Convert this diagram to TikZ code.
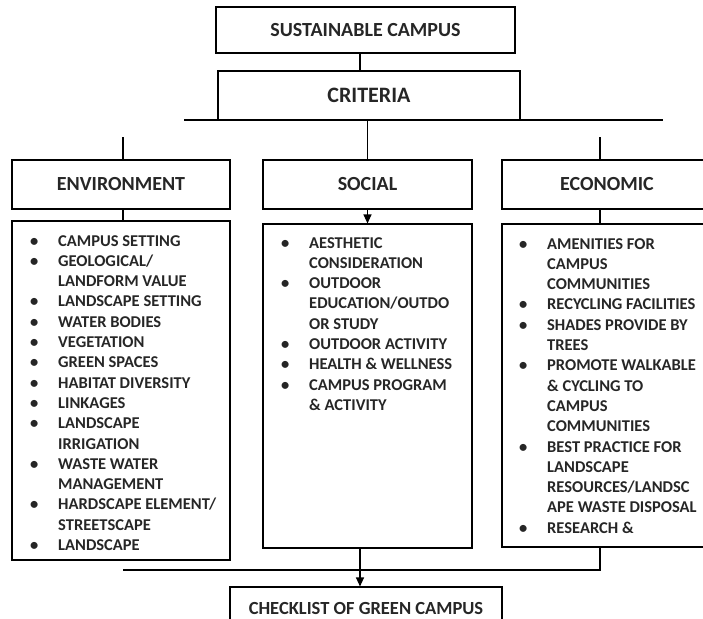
\documentclass[tikz,border=0pt]{standalone}
\usepackage{fontspec}
\setmainfont{Carlito}
\usetikzlibrary{arrows.meta}
\tikzset{
  catbox/.style = {draw=black, rectangle, line width=1.1pt, inner sep=0pt,
    align=center, text=black!85, font=\bfseries\fontsize{20}{24}\selectfont},
  listbox/.style = {draw=black, rectangle, line width=1.1pt, inner sep=0pt},% cadre de liste
  listtext/.style = {anchor=base west, inner sep=0pt, text=black!85,
    font=\bfseries\fontsize{16.5}{20.3}\selectfont},% texte de liste
  link/.style = {line width=1.1pt},
  linkarrow/.style = {link, -{Triangle[width=8pt,length=9pt]}}
}

\begin{document}
\begin{tikzpicture}[x=1pt,y=-1pt]
  \useasboundingbox (0,0) rectangle (703,618);
  \clip (0,0) rectangle (703,618);

  \node [catbox, minimum width=299pt, minimum height=46pt] (sust) at (365.5,30) {SUSTAINABLE CAMPUS};
  \node [catbox, minimum width=302pt, minimum height=49pt, font=\bfseries\fontsize{22}{26}\selectfont] (crit) at (369,95.5) {CRITERIA};
  \node [catbox, minimum width=218pt, minimum height=49pt] (env) at (121,184.5) {ENVIRONMENT};
  \node [catbox, minimum width=209pt, minimum height=49pt] (soc) at (367.5,184.5) {SOCIAL};
  \node [catbox, minimum width=210pt, minimum height=49pt] (eco) at (607,184.5) {ECONOMIC};

  \node [listbox, minimum width=218pt, minimum height=339pt] (envlist) at (121,390.5) {};
  \node [listbox, minimum width=209pt, minimum height=324pt] (soclist) at (367.5,386) {};
  \node [listbox, minimum width=210pt, minimum height=323pt] (ecolist) at (607,385.5) {};
  \node [catbox, minimum width=272pt, minimum height=43pt, font=\bfseries\fontsize{18.5}{22}\selectfont] (check) at (366,608.5) {CHECKLIST OF GREEN CAMPUS};

  % listes
  \node [listtext] (envtext) at (30,246) {\begin{tabular}[t]{@{}p{28pt}@{}l@{}}
    \textbullet & CAMPUS SETTING\\
    \textbullet & GEOLOGICAL/\\
                & LANDFORM VALUE\\
    \textbullet & LANDSCAPE SETTING\\
    \textbullet & WATER BODIES\\
    \textbullet & VEGETATION\\
    \textbullet & GREEN SPACES\\
    \textbullet & HABITAT DIVERSITY\\
    \textbullet & LINKAGES\\
    \textbullet & LANDSCAPE\\
                & IRRIGATION\\
    \textbullet & WASTE WATER\\
                & MANAGEMENT\\
    \textbullet & HARDSCAPE ELEMENT/\\
                & STREETSCAPE\\
    \textbullet & LANDSCAPE
  \end{tabular}};
  \node [listtext] (soctext) at (281,248) {\begin{tabular}[t]{@{}p{28pt}@{}l@{}}
    \textbullet & AESTHETIC\\
                & CONSIDERATION\\
    \textbullet & OUTDOOR\\
                & EDUCATION/OUTDO\\
                & OR STUDY\\
    \textbullet & OUTDOOR ACTIVITY\\
    \textbullet & HEALTH \& WELLNESS\\
    \textbullet & CAMPUS PROGRAM\\
                & \& ACTIVITY
  \end{tabular}};
  \node [listtext] (ecotext) at (519,249) {\begin{tabular}[t]{@{}p{28pt}@{}l@{}}
    \textbullet & AMENITIES FOR\\
                & CAMPUS\\
                & COMMUNITIES\\
    \textbullet & RECYCLING FACILITIES\\
    \textbullet & SHADES PROVIDE BY\\
                & TREES\\
    \textbullet & PROMOTE WALKABLE\\
                & \& CYCLING TO\\
                & CAMPUS\\
                & COMMUNITIES\\
    \textbullet & BEST PRACTICE FOR\\
                & LANDSCAPE\\
                & RESOURCES/LANDSC\\
                & APE WASTE DISPOSAL\\
    \textbullet & RESEARCH \&
  \end{tabular}};

  % points libres
  \coordinate (axis) at (360,0);
  \coordinate (barleft) at (184,120);
  \coordinate (barright) at (663,120);
  \coordinate (envstub) at (123,137);
  \coordinate (ecostub) at (600,137);
  \coordinate (busleft) at (123,570);

  \draw [link] (sust.south -| axis) -- (crit.north -| axis);
  \draw [link] (barleft) -- (barright);
  \draw [link] (crit.south -| soc.north) -- (soc.north);
  \foreach \stub/\cat in {envstub/env,ecostub/eco}
    \draw [link] (\stub) -- (\stub |- \cat.north);
  \draw [link] (env.south -| envstub) -- (envlist.north -| envstub);
  \draw [link] (eco.south -| ecostub) -- (ecolist.north -| ecostub);
  \draw [linkarrow] (soc.south) -- (soclist.north);
  \draw [link] (ecolist.south -| ecostub) -- (busleft -| ecostub) -- (busleft);
  \draw [linkarrow] (soclist.south -| axis) -- (check.north -| axis);
\end{tikzpicture}
\end{document}
